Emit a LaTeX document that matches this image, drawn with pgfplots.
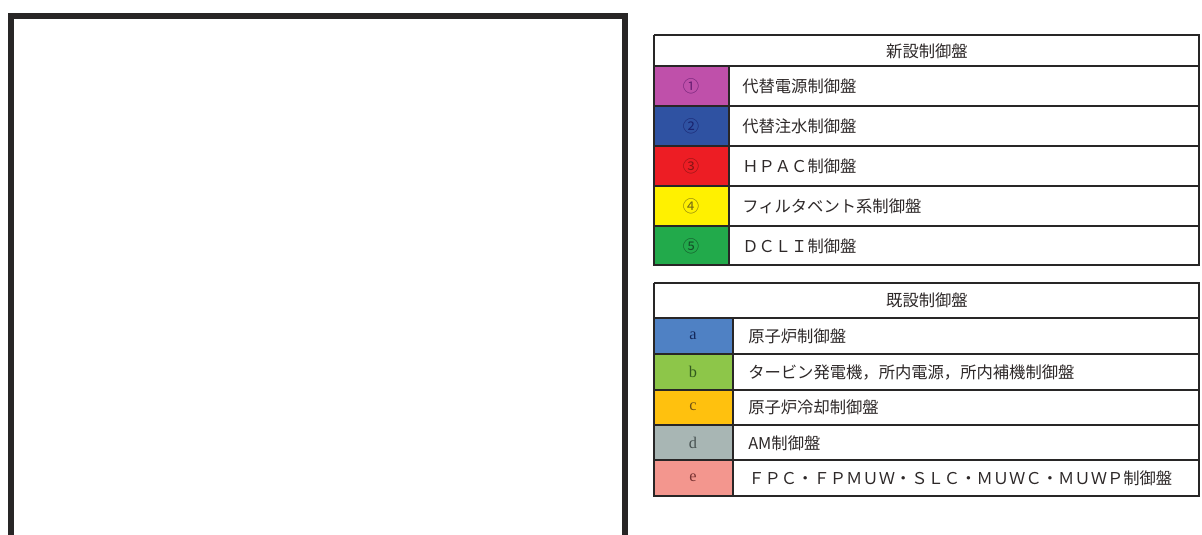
\documentclass[border=0pt]{standalone}
\usepackage{pgfplots}
\pgfplotsset{compat=1.18}
\usepackage{fontspec}
\setmainfont{Noto Sans CJK JP}
\newfontfamily\serifl{Liberation Serif}
\definecolor{c1}{RGB}{191,80,170}\definecolor{t1}{RGB}{105,30,115}
\definecolor{c2}{RGB}{47,82,162}\definecolor{t2}{RGB}{25,35,110}
\definecolor{c3}{RGB}{237,29,36}\definecolor{t3}{RGB}{135,20,20}
\definecolor{c4}{RGB}{255,241,0}\definecolor{t4}{RGB}{120,110,20}
\definecolor{c5}{RGB}{34,170,75}\definecolor{t5}{RGB}{20,80,40}
\definecolor{ca}{RGB}{79,129,196}\definecolor{ta}{RGB}{20,40,90}
\definecolor{cb}{RGB}{141,198,73}\definecolor{tb}{RGB}{50,90,30}
\definecolor{cc}{RGB}{255,193,14}\definecolor{tc}{RGB}{110,80,20}
\definecolor{cd}{RGB}{168,182,180}\definecolor{td}{RGB}{70,80,80}
\definecolor{ce}{RGB}{243,150,142}\definecolor{te}{RGB}{120,50,50}
\definecolor{gridc}{RGB}{40,38,38}
\definecolor{txt}{RGB}{45,40,40}
\begin{document}
\fontsize{11.6}{14}\selectfont
\begin{tikzpicture}[lbl/.style={font=\fontsize{11.6}{14}\selectfont, text=txt}]
\begin{axis}[
  width=300.5mm, height=133.5mm, scale only axis,
  xmin=0, xmax=1202, ymin=0, ymax=534, y dir=reverse,
  hide axis, clip=true,
]
\addplot[draw=none] coordinates {(0,0) (1202,534)};
% big frame
\addplot[line width=1.5mm, color=gridc, line join=miter] coordinates {(11,560) (11,15.5) (625,15.5) (625,560)};
% table 1 colour cells
\addplot[fill=c1, draw=none] coordinates {(654,66) (729,66) (729,106) (654,106)};
\addplot[fill=c2, draw=none] coordinates {(654,106) (729,106) (729,146) (654,146)};
\addplot[fill=c3, draw=none] coordinates {(654,146) (729,146) (729,186) (654,186)};
\addplot[fill=c4, draw=none] coordinates {(654,186) (729,186) (729,226) (654,226)};
\addplot[fill=c5, draw=none] coordinates {(654,226) (729,226) (729,265) (654,265)};
% table 2 colour cells
\addplot[fill=ca, draw=none] coordinates {(654,318) (733,318) (733,354) (654,354)};
\addplot[fill=cb, draw=none] coordinates {(654,354) (733,354) (733,390) (654,390)};
\addplot[fill=cc, draw=none] coordinates {(654,390) (733,390) (733,425) (654,425)};
\addplot[fill=cd, draw=none] coordinates {(654,425) (733,425) (733,460) (654,460)};
\addplot[fill=ce, draw=none] coordinates {(654,460) (733,460) (733,496) (654,496)};
% table 1 grid
\addplot[line width=0.45mm, color=gridc] coordinates {(654,35) (1199,35) (1199,265) (654,265) (654,35)};
\addplot[line width=0.45mm, color=gridc] coordinates {(654,66) (1199,66)};
\addplot[line width=0.45mm, color=gridc] coordinates {(654,106) (1199,106)};
\addplot[line width=0.45mm, color=gridc] coordinates {(654,146) (1199,146)};
\addplot[line width=0.45mm, color=gridc] coordinates {(654,186) (1199,186)};
\addplot[line width=0.45mm, color=gridc] coordinates {(654,226) (1199,226)};
\addplot[line width=0.45mm, color=gridc] coordinates {(729,66) (729,265)};
% table 2 grid
\addplot[line width=0.45mm, color=gridc] coordinates {(654,283) (1199,283) (1199,496) (654,496) (654,283)};
\addplot[line width=0.45mm, color=gridc] coordinates {(654,318) (1199,318)};
\addplot[line width=0.45mm, color=gridc] coordinates {(654,354) (1199,354)};
\addplot[line width=0.45mm, color=gridc] coordinates {(654,390) (1199,390)};
\addplot[line width=0.45mm, color=gridc] coordinates {(654,425) (1199,425)};
\addplot[line width=0.45mm, color=gridc] coordinates {(654,460) (1199,460)};
\addplot[line width=0.45mm, color=gridc] coordinates {(733,318) (733,496)};
% texts table 1
\node[lbl] at (axis cs:927,51) {新設制御盤};
\node[lbl, text=t1] at (axis cs:691,86) {①};
\node[lbl, text=t2] at (axis cs:691,126) {②};
\node[lbl, text=t3] at (axis cs:691,166) {③};
\node[lbl, text=t4] at (axis cs:691,206) {④};
\node[lbl, text=t5] at (axis cs:691,246) {⑤};
\node[lbl, anchor=west, inner sep=0pt] at (axis cs:742,86) {代替電源制御盤};
\node[lbl, anchor=west, inner sep=0pt] at (axis cs:742,126) {代替注水制御盤};
\node[lbl, anchor=west, inner sep=0pt] at (axis cs:742,166) {ＨＰＡＣ制御盤};
\node[lbl, anchor=west, inner sep=0pt] at (axis cs:742,206) {フィルタベント系制御盤};
\node[lbl, anchor=west, inner sep=0pt] at (axis cs:742,246) {ＤＣＬＩ制御盤};
% texts table 2
\node[lbl] at (axis cs:927,300) {既設制御盤};
\node[lbl, text=ta] at (axis cs:693,336) {\serifl a};
\node[lbl, text=tb] at (axis cs:693,372) {\serifl b};
\node[lbl, text=tc] at (axis cs:693,407) {\serifl c};
\node[lbl, text=td] at (axis cs:693,443) {\serifl d};
\node[lbl, text=te] at (axis cs:693,478) {\serifl e};
\node[lbl, anchor=west, inner sep=0pt] at (axis cs:748,336) {原子炉制御盤};
\node[lbl, anchor=west, inner sep=0pt] at (axis cs:748,372) {タービン発電機，所内電源，所内補機制御盤};
\node[lbl, anchor=west, inner sep=0pt] at (axis cs:748,407) {原子炉冷却制御盤};
\node[lbl, anchor=west, inner sep=0pt] at (axis cs:748,443) {AM制御盤};
\node[lbl, anchor=west, inner sep=0pt] at (axis cs:748,478) {ＦＰＣ・ＦＰＭＵＷ・ＳＬＣ・ＭＵＷＣ・ＭＵＷＰ制御盤};
\end{axis}
\end{tikzpicture}
\end{document}
